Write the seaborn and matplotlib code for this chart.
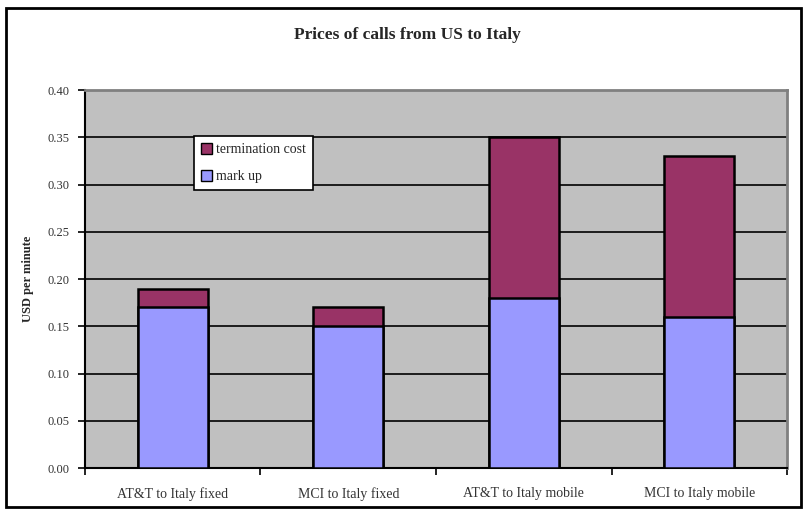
import numpy as np
import pandas as pd
import seaborn as sns
import matplotlib.pyplot as plt
from matplotlib.patches import Rectangle, Patch

routes = ['AT&T to Italy fixed', 'MCI to Italy fixed', 'AT&T to Italy mobile', 'MCI to Italy mobile']
mark_up = [0.17, 0.15, 0.18, 0.16]
termination_cost = [0.02, 0.02, 0.17, 0.17]

df = pd.DataFrame({'route': routes, 'mark up': mark_up, 'termination cost': termination_cost})
df['total'] = df['mark up'] + df['termination cost']

sns.set_theme(style='white')
plt.rcParams['font.family'] = ['Liberation Serif', 'DejaVu Serif']

fig = plt.figure(figsize=(8.07, 5.12), dpi=100)
ax = fig.add_axes([0.1053, 0.0859, 0.870, 0.738])
ax.set_facecolor('#C0C0C0')

# stacked bars: totals first (termination on top), then mark up over them
sns.barplot(x='route', y='total', data=df, color='#993366', width=0.4,
            edgecolor='black', linewidth=1.8, saturation=1, ax=ax, zorder=3)
sns.barplot(x='route', y='mark up', data=df, color='#9999FF', width=0.4,
            edgecolor='black', linewidth=1.8, saturation=1, ax=ax, zorder=4)

ax.set_ylim(0, 0.40)
ax.set_xlim(-0.5, 3.5)
ax.set_yticks(np.arange(0, 0.401, 0.05))
ax.set_yticklabels(['%.2f' % v for v in np.arange(0, 0.401, 0.05)], fontsize=9, color='#333333')
ax.yaxis.grid(True, color='black', linewidth=1.2, zorder=0)
ax.set_axisbelow(True)

ax.set_xticks([-0.5, 0.5, 1.5, 2.5, 3.5])
ax.set_xticklabels([])
ax.set_xticks(range(4), minor=True)
ax.set_xticklabels(routes, minor=True, fontsize=10, color='#333333')
ax.tick_params(axis='x', which='major', direction='out', length=5, width=1.2, color='black', bottom=True)
ax.tick_params(axis='x', which='minor', length=0, pad=14)
ax.tick_params(axis='y', direction='out', length=5, width=1.2, color='black', left=True, pad=6)

ax.set_xlabel('')
ax.set_ylabel('USD per minute', fontsize=9, fontweight='bold', labelpad=10)

for side in ['left', 'bottom']:
    ax.spines[side].set_color('black')
    ax.spines[side].set_linewidth(1.5)
for side in ['top', 'right']:
    ax.spines[side].set_color('#808080')
    ax.spines[side].set_linewidth(2)

fig.text(0.505, 0.932, 'Prices of calls from US to Italy', ha='center', va='center',
         fontsize=12.5, fontweight='bold')

handles = [Patch(facecolor='#993366', edgecolor='black', label='termination cost'),
           Patch(facecolor='#9999FF', edgecolor='black', label='mark up')]
leg = ax.legend(handles=handles, loc='upper left', bbox_to_anchor=(0.155, 0.878),
                fontsize=10, frameon=True, fancybox=False, framealpha=1,
                edgecolor='black', handlelength=0.8, handleheight=0.8,
                handletextpad=0.3, borderpad=0.5, borderaxespad=0, labelspacing=1.0)
leg.get_frame().set_linewidth(1.2)
leg.set_zorder(6)

fig.patches.append(Rectangle((0.008, 0.010), 0.984, 0.975, transform=fig.transFigure,
                             fill=False, edgecolor='black', linewidth=2))

fig.savefig('out.png', dpi=100)
